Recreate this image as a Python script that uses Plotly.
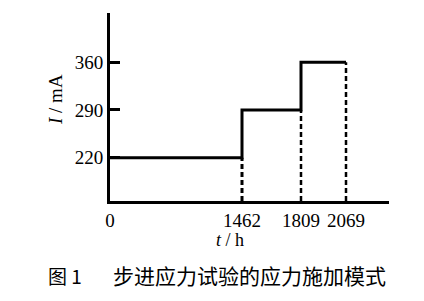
import numpy as np
import plotly.graph_objects as go

# ---- data ----
boundary_hours = [0, 1462, 1809, 2069]
stage_current_mA = [220, 290, 360]
time_tick_labels = ["0", "1462", "1809", "2069"]
current_tick_vals = [220, 290, 360]
current_tick_labels = ["220", "290", "360"]

# ---- layout / schematic axis (the original time axis is not to scale) ----
W, H = 424, 301
L, R, T, B = 110, 35, 13, 100
schematic_x = [0, 132, 191, 236]   # display positions of the boundaries
x_range = [0, 279]
y_range = [156.6, 432]

def to_disp(h):
    return np.interp(h, boundary_hours, schematic_x)

# step path
sx, sy = [], []
for i, c in enumerate(stage_current_mA):
    sx += [boundary_hours[i], boundary_hours[i + 1]]
    sy += [c, c]

fig = go.Figure()
fig.add_trace(go.Scatter(x=to_disp(sx), y=sy, mode="lines",
                         line=dict(color="black", width=3), hoverinfo="skip"))
for i in range(1, len(boundary_hours)):
    xd = float(to_disp(boundary_hours[i]))
    fig.add_trace(go.Scatter(x=[xd, xd], y=[y_range[0], stage_current_mA[i - 1]],
                             mode="lines",
                             line=dict(color="black", width=3 if i == 1 else 2.5, dash="5px,3px"),
                             hoverinfo="skip"))

serif = "Liberation Serif, Times New Roman, serif"
fig.update_layout(
    width=W, height=H, margin=dict(l=L, r=R, t=T, b=B),
    paper_bgcolor="white", plot_bgcolor="white", showlegend=False,
    font=dict(family=serif, size=19, color="black"),
    xaxis=dict(range=x_range, showgrid=False, zeroline=False, showline=True,
               linecolor="black", linewidth=3, ticks="",
               tickvals=[float(v) for v in to_disp(boundary_hours)],
               ticktext=time_tick_labels, tickfont=dict(family=serif, size=19)),
    yaxis=dict(range=y_range, showgrid=False, zeroline=False, showline=True,
               linecolor="black", linewidth=3, ticks="inside", ticklen=10,
               tickwidth=2.5, tickcolor="black",
               tickvals=current_tick_vals, ticktext=current_tick_labels,
               tickfont=dict(family=serif, size=19)),
)

pw, ph = W - L - R, H - T - B
def px(xp): return (xp - L) / pw
def py(yp): return 1 - (yp - T) / ph

fig.add_annotation(x=px(55), y=py(100), xref="paper", yref="paper",
                   text="<i>I</i> / mA", textangle=-90, showarrow=False,
                   font=dict(family=serif, size=19), xanchor="center", yanchor="middle")
fig.add_annotation(x=px(230), y=py(240), xref="paper", yref="paper",
                   text="<i>t</i> / h", showarrow=False,
                   font=dict(family=serif, size=18), xanchor="center", yanchor="middle")
cjk = "Noto Sans CJK SC"
fig.add_annotation(x=px(65), y=py(275), xref="paper", yref="paper",
                   text="图 1", showarrow=False,
                   font=dict(family=cjk, size=19), xanchor="center", yanchor="middle")
fig.add_annotation(x=px(249), y=py(275), xref="paper", yref="paper",
                   text="步进应力试验的应力施加模式", showarrow=False,
                   font=dict(family=cjk, size=21), xanchor="center", yanchor="middle")

fig.write_html("out.html")
